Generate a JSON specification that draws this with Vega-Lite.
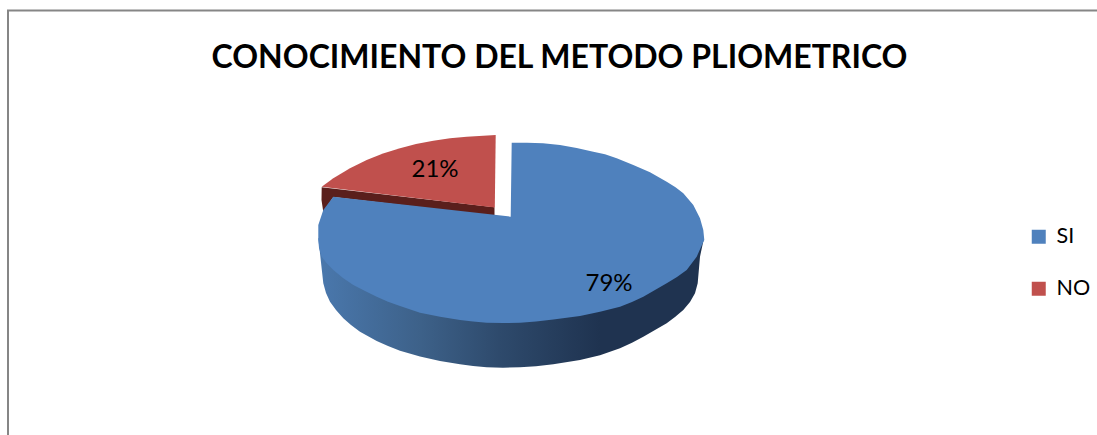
{"$schema":"https://vega.github.io/schema/vega-lite/v6.json","width":1097,"height":435,"padding":0,"autosize":{"type":"none"},"background":"white","config":{"view":{"stroke":null}},"title":{"text":"CONOCIMIENTO DEL METODO PLIOMETRICO","font":"Lato","fontSize":32,"fontWeight":"bold","color":"black","anchor":"middle","frame":"group","dx":11,"offset":-75},"datasets":{"contornos":[
{"pieza":"marco","orden":1,"x":8,"y":435},{"pieza":"marco","orden":2,"x":8,"y":10.5},{"pieza":"marco","orden":3,"x":1097,"y":10.5},
{"pieza":"lateral","orden":1,"x":704,"y":238},{"pieza":"lateral","orden":2,"x":700,"y":256.7},{"pieza":"lateral","orden":3,"x":697.7,"y":283.3},{"pieza":"lateral","orden":4,"x":695,"y":293.3},{"pieza":"lateral","orden":5,"x":690,"y":302},{"pieza":"lateral","orden":6,"x":683.3,"y":310},{"pieza":"lateral","orden":7,"x":675,"y":317},{"pieza":"lateral","orden":8,"x":666.7,"y":323.3},{"pieza":"lateral","orden":9,"x":655,"y":330},{"pieza":"lateral","orden":10,"x":643.3,"y":336.7},{"pieza":"lateral","orden":11,"x":632,"y":342.8},{"pieza":"lateral","orden":12,"x":620,"y":348.3},{"pieza":"lateral","orden":13,"x":600,"y":355.3},{"pieza":"lateral","orden":14,"x":580,"y":360},{"pieza":"lateral","orden":15,"x":553.3,"y":364.3},{"pieza":"lateral","orden":16,"x":536,"y":366.2},{"pieza":"lateral","orden":17,"x":520,"y":367.3},{"pieza":"lateral","orden":18,"x":503,"y":367.7},{"pieza":"lateral","orden":19,"x":486.7,"y":367.3},{"pieza":"lateral","orden":20,"x":473,"y":366},{"pieza":"lateral","orden":21,"x":460,"y":364.3},{"pieza":"lateral","orden":22,"x":440,"y":361},{"pieza":"lateral","orden":23,"x":420,"y":356.4},{"pieza":"lateral","orden":24,"x":400,"y":350.7},{"pieza":"lateral","orden":25,"x":388,"y":346},{"pieza":"lateral","orden":26,"x":376.7,"y":341},{"pieza":"lateral","orden":27,"x":360,"y":331.7},{"pieza":"lateral","orden":28,"x":351,"y":325},{"pieza":"lateral","orden":29,"x":343.3,"y":318.3},{"pieza":"lateral","orden":30,"x":336,"y":310},{"pieza":"lateral","orden":31,"x":330,"y":301.7},{"pieza":"lateral","orden":32,"x":326,"y":293},{"pieza":"lateral","orden":33,"x":323.3,"y":283.3},{"pieza":"lateral","orden":34,"x":320,"y":253.3},{"pieza":"lateral","orden":35,"x":318.3,"y":238.3},
{"pieza":"corte","orden":1,"x":321.7,"y":187.3},{"pieza":"corte","orden":2,"x":494.5,"y":207.3},{"pieza":"corte","orden":3,"x":494.5,"y":216},{"pieza":"corte","orden":4,"x":333.3,"y":197},{"pieza":"corte","orden":5,"x":323.3,"y":212},{"pieza":"corte","orden":6,"x":321.5,"y":200},
{"pieza":"cara","sector":"NO","orden":1,"x":321.7,"y":186.7},{"pieza":"cara","sector":"NO","orden":2,"x":333.3,"y":178.3},{"pieza":"cara","sector":"NO","orden":3,"x":350,"y":168.3},{"pieza":"cara","sector":"NO","orden":4,"x":366.7,"y":160},{"pieza":"cara","sector":"NO","orden":5,"x":383,"y":153.5},{"pieza":"cara","sector":"NO","orden":6,"x":400,"y":148.3},{"pieza":"cara","sector":"NO","orden":7,"x":416,"y":144},{"pieza":"cara","sector":"NO","orden":8,"x":433.3,"y":140.7},{"pieza":"cara","sector":"NO","orden":9,"x":450,"y":138.3},{"pieza":"cara","sector":"NO","orden":10,"x":466.7,"y":136.7},{"pieza":"cara","sector":"NO","orden":11,"x":495.7,"y":135},{"pieza":"cara","sector":"NO","orden":12,"x":494.8,"y":207.5},
{"pieza":"cara","sector":"SI","orden":1,"x":511.7,"y":142.7},{"pieza":"cara","sector":"SI","orden":2,"x":527,"y":142.8},{"pieza":"cara","sector":"SI","orden":3,"x":543,"y":143.3},{"pieza":"cara","sector":"SI","orden":4,"x":560,"y":145},{"pieza":"cara","sector":"SI","orden":5,"x":576.7,"y":148},{"pieza":"cara","sector":"SI","orden":6,"x":593.3,"y":151.7},{"pieza":"cara","sector":"SI","orden":7,"x":605,"y":154.2},{"pieza":"cara","sector":"SI","orden":8,"x":616.7,"y":158.3},{"pieza":"cara","sector":"SI","orden":9,"x":633.3,"y":165},{"pieza":"cara","sector":"SI","orden":10,"x":650,"y":172.3},{"pieza":"cara","sector":"SI","orden":11,"x":666.7,"y":181.7},{"pieza":"cara","sector":"SI","orden":12,"x":675.5,"y":187.3},{"pieza":"cara","sector":"SI","orden":13,"x":683.3,"y":193.3},{"pieza":"cara","sector":"SI","orden":14,"x":693.3,"y":205},{"pieza":"cara","sector":"SI","orden":15,"x":700,"y":218.3},{"pieza":"cara","sector":"SI","orden":16,"x":703.3,"y":230},{"pieza":"cara","sector":"SI","orden":17,"x":704.3,"y":240},{"pieza":"cara","sector":"SI","orden":18,"x":701.7,"y":245.5},{"pieza":"cara","sector":"SI","orden":19,"x":696.7,"y":256.7},{"pieza":"cara","sector":"SI","orden":20,"x":686.7,"y":270},{"pieza":"cara","sector":"SI","orden":21,"x":677,"y":277},{"pieza":"cara","sector":"SI","orden":22,"x":666.7,"y":283.3},{"pieza":"cara","sector":"SI","orden":23,"x":655,"y":290},{"pieza":"cara","sector":"SI","orden":24,"x":643.3,"y":296.7},{"pieza":"cara","sector":"SI","orden":25,"x":632,"y":302},{"pieza":"cara","sector":"SI","orden":26,"x":620,"y":306.7},{"pieza":"cara","sector":"SI","orden":27,"x":600,"y":311.8},{"pieza":"cara","sector":"SI","orden":28,"x":580,"y":316},{"pieza":"cara","sector":"SI","orden":29,"x":553.3,"y":319.6},{"pieza":"cara","sector":"SI","orden":30,"x":536,"y":321.6},{"pieza":"cara","sector":"SI","orden":31,"x":520,"y":322.7},{"pieza":"cara","sector":"SI","orden":32,"x":503,"y":323},{"pieza":"cara","sector":"SI","orden":33,"x":486.7,"y":322.7},{"pieza":"cara","sector":"SI","orden":34,"x":473,"y":321.6},{"pieza":"cara","sector":"SI","orden":35,"x":460,"y":320},{"pieza":"cara","sector":"SI","orden":36,"x":440,"y":316.7},{"pieza":"cara","sector":"SI","orden":37,"x":420,"y":312.7},{"pieza":"cara","sector":"SI","orden":38,"x":400,"y":306},{"pieza":"cara","sector":"SI","orden":39,"x":388,"y":301.7},{"pieza":"cara","sector":"SI","orden":40,"x":376.7,"y":296.7},{"pieza":"cara","sector":"SI","orden":41,"x":365,"y":291},{"pieza":"cara","sector":"SI","orden":42,"x":353.3,"y":285},{"pieza":"cara","sector":"SI","orden":43,"x":343,"y":278},{"pieza":"cara","sector":"SI","orden":44,"x":333.3,"y":270},{"pieza":"cara","sector":"SI","orden":45,"x":326.5,"y":263},{"pieza":"cara","sector":"SI","orden":46,"x":321.7,"y":256.7},{"pieza":"cara","sector":"SI","orden":47,"x":319,"y":248},{"pieza":"cara","sector":"SI","orden":48,"x":318.3,"y":240},{"pieza":"cara","sector":"SI","orden":49,"x":318.3,"y":225},{"pieza":"cara","sector":"SI","orden":50,"x":323.3,"y":210},{"pieza":"cara","sector":"SI","orden":51,"x":333.3,"y":196.7},{"pieza":"cara","sector":"SI","orden":52,"x":510.7,"y":216.7}
],"sectores":[{"sector":"SI","porcentaje":"79%","x":609,"y":284},{"sector":"NO","porcentaje":"21%","x":435,"y":170}]},
"layer":[
{"data":{"name":"contornos"},"transform":[{"filter":"datum.pieza === 'marco'"}],"mark":{"type":"line","stroke":"#868686","strokeWidth":2,"clip":true},"encoding":{"x":{"field":"x","type":"quantitative","scale":{"domain":[0,1097],"nice":false,"zero":false},"axis":null},"y":{"field":"y","type":"quantitative","scale":{"domain":[435,0],"nice":false,"zero":false},"axis":null},"order":{"field":"orden"}}},
{"data":{"name":"contornos"},"transform":[{"filter":"datum.pieza === 'lateral'"}],"mark":{"type":"line","strokeWidth":0,"fill":{"gradient":"linear","x1":0,"x2":1,"y1":0,"y2":0,"stops":[{"offset":0,"color":"#4a78ad"},{"offset":0.265,"color":"#3d6189"},{"offset":0.47,"color":"#2e4a6c"},{"offset":0.73,"color":"#1f3350"},{"offset":1,"color":"#1f3350"}]}},"encoding":{"x":{"field":"x","type":"quantitative"},"y":{"field":"y","type":"quantitative"},"order":{"field":"orden"}}},
{"data":{"name":"contornos"},"transform":[{"filter":"datum.pieza === 'corte'"}],"mark":{"type":"line","strokeWidth":0,"fill":"#5a1f1c"},"encoding":{"x":{"field":"x","type":"quantitative"},"y":{"field":"y","type":"quantitative"},"order":{"field":"orden"}}},
{"data":{"name":"contornos"},"transform":[{"filter":"datum.pieza === 'cara'"}],"mark":{"type":"line","filled":true,"strokeWidth":0},"encoding":{"x":{"field":"x","type":"quantitative"},"y":{"field":"y","type":"quantitative"},"order":{"field":"orden"},"color":{"field":"sector","type":"nominal","scale":{"domain":["SI","NO"],"range":["#4f81bd","#c0504d"]},"legend":{"title":null,"orient":"none","legendX":1028,"legendY":226,"symbolType":"square","symbolSize":196,"labelFont":"Lato","labelFontSize":21.5,"labelColor":"black","labelOffset":7,"rowPadding":29}}}},
{"data":{"name":"sectores"},"mark":{"type":"text","font":"Lato","fontSize":24,"color":"black","align":"center","baseline":"middle"},"encoding":{"x":{"field":"x","type":"quantitative"},"y":{"field":"y","type":"quantitative"},"text":{"field":"porcentaje"}}}
]}
